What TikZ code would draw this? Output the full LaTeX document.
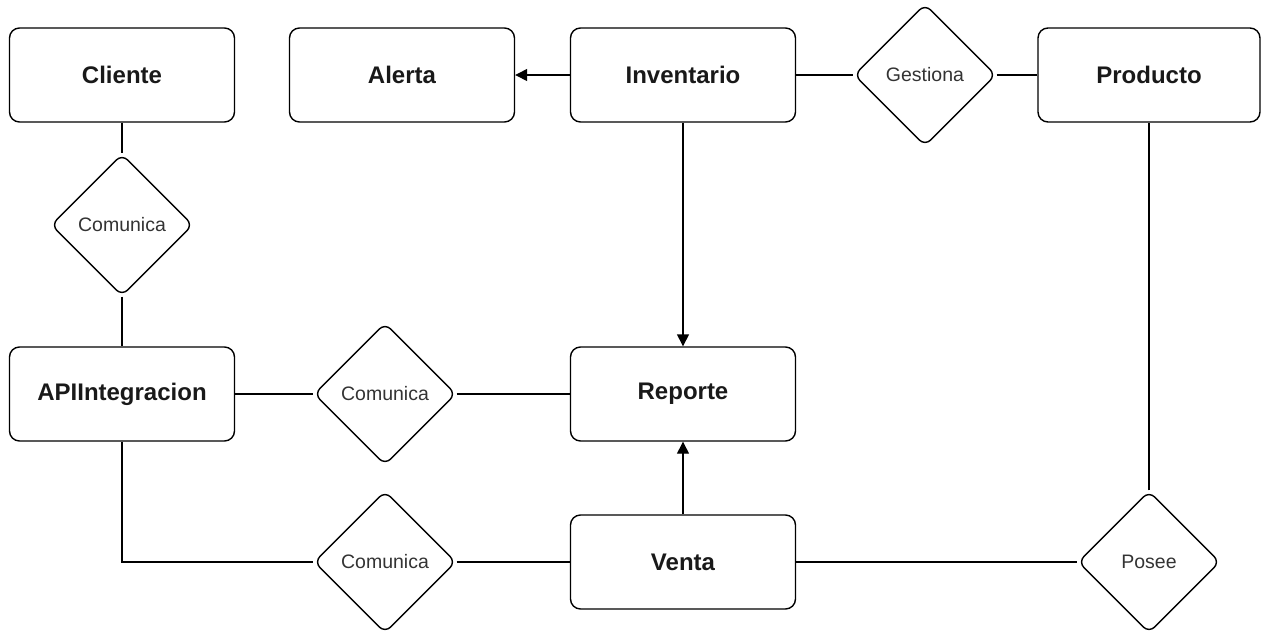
\documentclass[tikz,border=0pt]{standalone}
\usepackage{fontspec}
\setmainfont{Liberation Sans}
\usetikzlibrary{shapes.geometric,arrows.meta}

\tikzset{
  entity/.style={draw, line width=1.4pt, rounded corners=10pt, rectangle,
    minimum width=225pt, minimum height=94pt, inner sep=0pt,
    font=\fontsize{24}{28}\selectfont\bfseries, text=black!90},
  relation/.style={draw, line width=1.4pt, rounded corners=8pt, diamond,
    minimum width=142pt, minimum height=142pt, inner sep=0pt,
    font=\fontsize{19.5}{23}\selectfont, text=black!80},
  link/.style={line width=1.4pt},
  arrowlink/.style={line width=1.4pt, -{Triangle[length=12pt,width=12pt]}}
}

\begin{document}
\begin{tikzpicture}[x=1pt, y=-1pt]
  \useasboundingbox (0,0) rectangle (1262,630);

  % entities
  \node[entity] (cliente)    at (122,75)  {Cliente};
  \node[entity] (alerta)     at (402,75)  {Alerta};
  \node[entity] (inventario) at (683,75)  {Inventario};
  \node[entity, minimum width=222pt] (producto) at (1149,75) {Producto};
  \node[entity] (api)        at (122,394) {APIIntegracion};
  \node[entity] (reporte)    at (683,394) {Reporte};
  \node[entity] (venta)      at (683,562) {Venta};

  % relationships
  \node[relation] (gestiona)  at (925,75)   {Gestiona};
  \node[relation] (comCli)    at (122,225)  {Comunica};
  \node[relation] (comRep)    at (385,394)  {Comunica};
  \node[relation] (comVen)    at (385,562)  {Comunica};
  \node[relation] (posee)     at (1149,562) {Posee};

  % connectors
  \draw[link] (cliente.south) -- (comCli.north);
  \draw[link] (comCli.south) -- (api.north);
  \draw[arrowlink] (inventario.west) -- (alerta.east);
  \draw[link] (inventario.east) -- (gestiona.west);
  \draw[link] (gestiona.east) -- (producto.west);
  \draw[arrowlink] (inventario.south) -- (reporte.north);
  \draw[link] (api.east) -- (comRep.west);
  \draw[link] (comRep.east) -- (reporte.west);
  \draw[link] (api.south) |- (comVen.west);
  \draw[link] (comVen.east) -- (venta.west);
  \draw[arrowlink] (venta.north) -- (reporte.south);
  \draw[link] (venta.east) -- (posee.west);
  \draw[link] (posee.north) -- (producto.south);
\end{tikzpicture}
\end{document}
